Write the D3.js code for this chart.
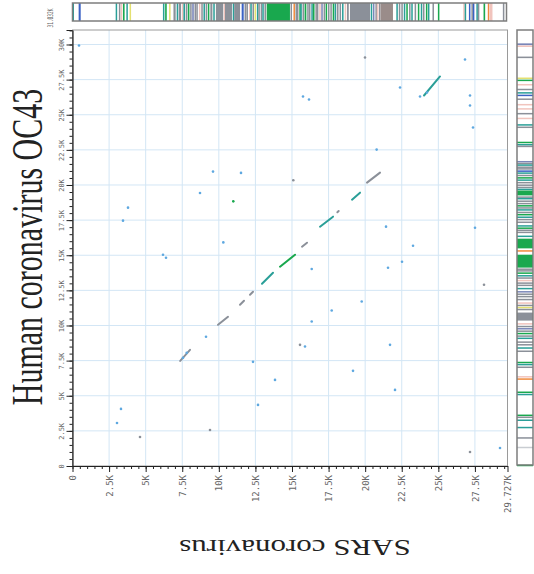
<!DOCTYPE html>
<html>
<head>
<meta charset="utf-8">
<script src="https://cdn.jsdelivr.net/npm/d3@7"></script>
<style>
body { margin: 0; background: #fff; }
</style>
</head>
<body>
<div id="chart"></div>
<script>
// genome lengths (bp)
var xLength = 29727;   // SARS coronavirus
var yLength = 31032;   // Human coronavirus OC43
var xName = "SARS coronavirus";
var yName = "Human coronavirus OC43";

var xTicks = [0, 2500, 5000, 7500, 10000, 12500, 15000, 17500, 20000, 22500, 25000, 27500, 29727];
var yTicks = [0, 2500, 5000, 7500, 10000, 12500, 15000, 17500, 20000, 22500, 25000, 27500, 30000, 31032];

// matched runs [xStart, yStart, xEnd, yEnd, kind]
var runs = [
  [7360, 7480, 8030, 8270, "s"],
  [9944, 10049, 10627, 10619, "s"],
  [11447, 11475, 11720, 11760, "s"],
  [12130, 12187, 12335, 12401, "s"],
  [12950, 12971, 13702, 13755, "t"],
  [14181, 14183, 15206, 15038, "g"],
  [15684, 15608, 16026, 15893, "s"],
  [16914, 17034, 17803, 17746, "t"],
  [18100, 18060, 18190, 18150, "s"],
  [19101, 18958, 19648, 19457, "t"],
  [20126, 20170, 21015, 20882, "s"],
  [24022, 26370, 25115, 27724, "t"]
];

// isolated hits [x, y, kind]
var hits = [
  [444, 29933, "b"], [3041, 3065, "b"], [3314, 4063, "b"], [3793, 18388, "b"], [3451, 17461, "b"],
  [6185, 15038, "b"], [6390, 14824, "b"], [4613, 2067, "s"], [7552, 7697, "b"], [9124, 9194, "b"],
  [7805, 8053, "b"], [9602, 20953, "b"], [11515, 20862, "b"], [8713, 19435, "b"], [10989, 18837, "g"],
  [10306, 15915, "b"], [15090, 20333, "s"], [16347, 14019, "b"], [17714, 11068, "b"], [19764, 11709, "b"],
  [16347, 10284, "b"], [15889, 8503, "b"], [20785, 22521, "b"], [19989, 29078, "s"], [22382, 26940, "b"],
  [23749, 26298, "b"], [24227, 26583, "b"], [27165, 26370, "b"], [27165, 25657, "b"], [27370, 24089, "b"],
  [27507, 16962, "b"], [28122, 12900, "s"], [23271, 15679, "b"], [21562, 14111, "b"], [22519, 14539, "b"],
  [21425, 17034, "b"], [19170, 6771, "b"], [13839, 6129, "b"], [12335, 7412, "b"], [15547, 8624, "s"],
  [22040, 5417, "b"], [27165, 998, "s"], [29215, 1283, "b"], [26823, 28936, "b"], [15752, 26298, "b"],
  [16162, 26085, "b"], [9397, 2566, "s"], [12677, 4347, "b"], [21698, 8624, "b"]
];

// annotation stripes along SARS [start, end, kind]
var topTrack = [
  [0, 100, "t"], [420, 560, "b"],
  [2950, 3040, "t"], [3170, 3260, "s"], [3300, 3360, "p"], [3450, 3560, "g"], [3680, 3770, "t"], [3900, 3990, "y"],
  [6180, 6270, "t"], [6330, 6440, "g"], [6600, 6690, "y"],
  [6900, 7050, "s"], [7120, 7200, "t"], [7260, 7420, "s"], [7480, 7540, "p"], [7580, 7690, "t"], [7740, 7830, "s"],
  [7880, 7990, "g"], [8040, 8120, "s"], [8180, 8290, "v"], [8340, 8420, "s"], [8460, 8560, "s"], [8640, 8740, "p"],
  [8800, 8880, "s"], [8950, 9050, "t"], [9100, 9180, "s"], [9250, 9350, "g"], [9420, 9560, "s"], [9620, 9700, "t"],
  [9800, 10300, "s"], [10340, 10400, "p"], [10420, 10900, "s"], [10950, 11020, "t"], [11050, 11450, "s"],
  [11560, 11700, "b"], [11760, 11840, "s"], [11880, 11990, "s"], [12060, 12120, "p"], [12150, 12240, "t"],
  [12300, 12380, "s"], [12440, 12530, "y"], [12600, 12660, "t"], [12700, 12800, "s"], [12860, 12920, "s"],
  [12970, 13070, "t"], [13120, 13200, "s"],
  [13270, 14860, "g"],
  [14900, 15000, "s"], [15100, 15180, "o"], [15240, 15300, "s"], [15340, 15440, "s"], [15500, 15560, "g"],
  [15570, 15660, "t"], [15720, 15800, "s"], [15860, 15980, "g"], [16040, 16100, "s"], [16160, 16260, "s"],
  [16320, 16380, "t"], [16430, 16540, "g"], [16600, 16660, "s"], [16700, 16800, "s"], [16860, 16940, "p"],
  [17000, 17100, "v"], [17160, 17240, "s"], [17300, 17400, "g"], [17460, 17540, "s"], [17620, 17720, "s"],
  [17780, 17840, "g"], [17910, 18000, "t"], [18060, 18180, "s"], [18250, 18350, "s"], [18420, 18500, "t"],
  [18600, 18680, "p"], [18760, 18880, "s"],
  [18960, 20330, "s"],
  [20380, 20460, "t"], [20530, 20630, "v"], [20700, 20760, "s"], [20800, 20880, "p"], [20940, 21000, "s"],
  [21050, 21900, "br"],
  [22130, 22210, "t"], [22300, 22360, "s"], [22470, 22560, "s"], [22640, 22700, "t"], [22810, 22900, "g"],
  [23000, 23060, "s"], [23150, 23230, "t"], [23380, 23440, "s"], [23600, 23700, "g"], [23800, 23860, "t"],
  [23950, 24040, "s"], [24150, 24210, "g"], [24290, 24380, "t"], [24600, 24660, "s"], [24970, 25070, "g"],
  [26700, 26760, "p"], [26800, 26880, "t"], [27090, 27180, "b"], [27260, 27320, "s"], [27360, 27450, "b"],
  [27600, 27660, "t"], [27700, 27790, "s"], [28090, 28200, "g"], [28380, 28470, "o"], [28500, 28700, "p"],
  [29410, 29500, "s"]
];

// annotation stripes along OC43 [start, end, kind]
var rightTrack = [
  [29950, 30080, "v"], [29860, 29930, "p"], [29030, 29140, "s"],
  [27550, 27650, "y"], [27420, 27500, "g"], [27100, 27190, "p"], [26760, 26850, "s"], [26530, 26610, "t"],
  [26350, 26430, "b"], [26070, 26160, "s"], [25690, 25770, "p"], [25390, 25470, "p"], [25050, 25130, "s"],
  [24700, 24790, "p"], [24240, 24330, "t"], [24100, 24160, "s"],
  [22990, 23080, "g"], [22860, 22920, "t"], [22720, 22800, "s"],
  [21620, 21710, "v"], [21520, 21580, "s"], [21390, 21470, "t"], [21250, 21320, "s"], [21120, 21200, "s"],
  [20960, 21040, "b"], [20820, 20900, "t"], [20650, 20730, "s"], [20480, 20560, "g"], [20320, 20400, "t"],
  [20130, 20220, "s"], [19960, 20040, "s"], [19790, 19880, "s"], [19680, 19740, "t"], [19260, 19610, "g"],
  [19120, 19190, "s"], [18990, 19080, "t"], [18820, 18900, "s"], [18650, 18730, "s"], [18500, 18570, "g"],
  [18340, 18420, "s"], [18190, 18280, "t"], [18020, 18100, "s"], [17850, 17940, "g"], [17680, 17760, "t"],
  [17500, 17590, "s"], [17300, 17400, "s"], [17050, 17140, "t"], [16900, 16980, "g"], [16760, 16830, "s"],
  [16590, 16680, "s"], [16300, 16400, "t"], [15490, 16180, "g"], [15260, 15360, "o"], [14120, 15040, "g"],
  [13990, 14060, "s"], [13850, 13940, "s"], [13700, 13780, "g"], [13510, 13590, "t"], [13360, 13430, "s"],
  [13160, 13250, "p"], [12990, 13070, "s"], [12820, 12910, "s"], [12600, 12680, "t"], [12360, 12450, "v"],
  [12200, 12280, "s"], [12020, 12110, "s"], [11820, 11900, "s"], [11560, 11650, "p"], [11400, 11480, "s"],
  [11260, 11330, "y"], [11100, 11190, "s"], [10350, 10920, "s"], [10080, 10170, "p"], [9900, 9980, "s"],
  [9740, 9820, "v"], [9570, 9650, "s"], [9390, 9480, "g"], [9220, 9300, "s"], [9050, 9140, "t"],
  [8800, 8870, "s"], [8590, 8680, "s"], [8370, 8450, "t"], [8150, 8220, "s"],
  [7340, 7420, "g"], [7210, 7270, "t"], [7000, 7080, "s"], [6310, 6400, "p"], [6180, 6240, "o"],
  [5210, 5300, "g"], [5050, 5140, "t"], [3570, 3660, "g"], [3450, 3520, "s"], [3230, 3310, "t"],
  [2700, 2790, "t"], [1970, 2050, "s"], [1280, 1370, "lg"], [0, 90, "g"]
];

var kindColor = {
  g: "#19a84e", t: "#2a9f98", s: "#8b9099", b: "#3b62c4", o: "#f08a3c", y: "#e4e070",
  p: "#f1c4bd", v: "#7a86b8", br: "#9a8c8a", lg: "#c9cdd2"
};

var W = 534, H = 574;
var plot = { left: 72.5, right: 507.5, top: 30, bottom: 466 };

var svg = d3.select("#chart").append("svg")
  .attr("width", W)
  .attr("height", H);

var x = d3.scaleLinear().domain([0, xLength]).range([plot.left, plot.right]);
var y = d3.scaleLinear().domain([0, yLength]).range([plot.bottom, plot.top]);

var fmt = function(d) { return d === 0 ? "0" : (d / 1000) + "K"; };

// grid
var grid = svg.append("g").attr("class", "grid");
grid.selectAll(".vg").data(xTicks.slice(1, -1)).enter().append("line")
  .attr("x1", function(d) { return x(d); }).attr("x2", function(d) { return x(d); })
  .attr("y1", plot.top).attr("y2", plot.bottom)
  .attr("stroke", "#d3e6f5").attr("stroke-width", 1);
grid.selectAll(".hg").data(yTicks.slice(1, -1)).enter().append("line")
  .attr("y1", function(d) { return y(d); }).attr("y2", function(d) { return y(d); })
  .attr("x1", plot.left).attr("x2", plot.right)
  .attr("stroke", "#d3e6f5").attr("stroke-width", 1);

svg.append("rect")
  .attr("x", plot.left).attr("y", plot.top)
  .attr("width", plot.right - plot.left).attr("height", plot.bottom - plot.top)
  .attr("fill", "none").attr("stroke", "#9a9a9a").attr("stroke-width", 1);

// matches
svg.append("g").selectAll("line").data(runs).enter().append("line")
  .attr("x1", function(d) { return x(d[0]); }).attr("y1", function(d) { return y(d[1]); })
  .attr("x2", function(d) { return x(d[2]); }).attr("y2", function(d) { return y(d[3]); })
  .attr("stroke", function(d) { return kindColor[d[4]]; })
  .attr("stroke-width", 2).attr("stroke-linecap", "round");

svg.append("g").selectAll("circle").data(hits).enter().append("circle")
  .attr("cx", function(d) { return x(d[0]); }).attr("cy", function(d) { return y(d[1]); })
  .attr("r", 1.3)
  .attr("fill", function(d) { return d[2] === "b" ? "#5ea8e0" : kindColor[d[2]]; });

// axes
var xMinor = d3.range(0, xLength, 500);
var yMinor = d3.range(0, yLength, 500);

svg.append("g").attr("transform", "translate(0," + plot.bottom + ")")
  .call(d3.axisBottom(x).tickValues(xMinor).tickSize(3).tickFormat(""))
  .call(function(g) { g.select(".domain").remove(); });
svg.append("g").attr("transform", "translate(" + plot.left + ",0)")
  .call(d3.axisLeft(y).tickValues(yMinor).tickSize(3).tickFormat(""))
  .call(function(g) { g.select(".domain").remove(); });

var xAxis = svg.append("g").attr("transform", "translate(0," + plot.bottom + ")")
  .call(d3.axisBottom(x).tickValues(xTicks).tickSize(6).tickSizeOuter(0).tickFormat(fmt));
xAxis.selectAll("text")
  .attr("transform", "rotate(-90)")
  .attr("x", -9).attr("y", 0).attr("dy", "0.35em")
  .style("text-anchor", "end");

var yAxis = svg.append("g").attr("transform", "translate(" + plot.left + ",0)")
  .call(d3.axisLeft(y).tickValues(yTicks).tickSize(6).tickSizeOuter(0).tickFormat(fmt));
yAxis.selectAll("text")
  .attr("x", 0).attr("y", 0).attr("dy", 0)
  .attr("transform", function(d) {
    return d === yLength ? "translate(-20,-3) rotate(-90) scale(0.75,1.3)" : "translate(-9,0) rotate(-90)";
  })
  .style("text-anchor", function(d) { return d === yLength ? "start" : "middle"; });

svg.selectAll(".tick line").attr("stroke", "#222");
svg.selectAll(".domain").attr("stroke", "#222").attr("stroke-width", 1.2);
xAxis.selectAll("text").attr("font-size", 9).attr("font-family", "DejaVu Sans Mono").attr("fill", "#666");
yAxis.selectAll("text")
  .attr("font-size", function(d) { return d === yLength ? 6 : 7; })
  .attr("font-family", "DejaVu Sans Mono").attr("fill", "#666");

// annotation tracks
var topBar = { y: 3, h: 18 };
var topG = svg.append("g");
topG.selectAll("rect").data(topTrack).enter().append("rect")
  .attr("x", function(d) { return x(d[0]); })
  .attr("width", function(d) { return Math.max(1.5, x(d[1]) - x(d[0])); })
  .attr("y", topBar.y).attr("height", topBar.h)
  .attr("fill", function(d) { return kindColor[d[2]]; });
topG.append("rect")
  .attr("x", plot.left).attr("y", topBar.y)
  .attr("width", plot.right - plot.left - 1).attr("height", topBar.h)
  .attr("fill", "none").attr("stroke", "#7d7d7d").attr("stroke-width", 1.5);

var rightBar = { x: 517, w: 16 };
var rightG = svg.append("g");
rightG.selectAll("rect").data(rightTrack).enter().append("rect")
  .attr("y", function(d) { return y(d[1]); })
  .attr("height", function(d) { return Math.max(1.5, y(d[0]) - y(d[1])); })
  .attr("x", rightBar.x).attr("width", rightBar.w)
  .attr("fill", function(d) { return kindColor[d[2]]; });
rightG.append("rect")
  .attr("x", rightBar.x).attr("y", plot.top)
  .attr("width", rightBar.w).attr("height", plot.bottom - plot.top - 1)
  .attr("fill", "none").attr("stroke", "#7d7d7d").attr("stroke-width", 1.5);

// titles
svg.append("text")
  .attr("transform", "translate(42,247) scale(1.5,1) rotate(-90)")
  .attr("text-anchor", "middle")
  .attr("font-family", "Liberation Serif")
  .attr("font-size", 30)
  .attr("fill", "#222")
  .text(yName);

svg.append("text")
  .attr("transform", "translate(295,540) scale(1,0.75) rotate(180)")
  .attr("text-anchor", "middle")
  .attr("font-family", "Liberation Serif")
  .attr("font-size", 31)
  .attr("fill", "#222")
  .text(xName);
</script>
</body>
</html>
